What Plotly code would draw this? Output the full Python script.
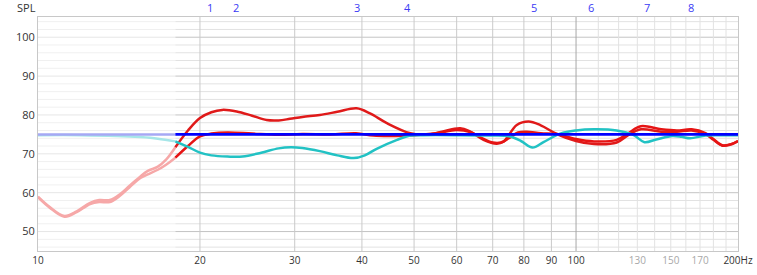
import math
import plotly.graph_objects as go

# ---------------- data ----------------
split_hz = 18.0

red_a_hz = [10, 10.5, 11.2, 11.8, 12.5, 13.0, 13.6, 14.2, 14.8, 15.5, 16.0, 16.7, 17.3,
            18.0, 19.0, 20.0, 21.0, 22.0, 23.4, 25.0, 26.6, 28.0, 29.4, 31.0, 33.4, 36.0,
            39.1, 41.4, 44.5, 49.2, 52.8, 56.0, 60.9, 63.6, 67.3, 71.2, 73.3, 77.6, 81.6,
            85.8, 92.1, 100, 108, 119, 125, 132, 144, 154, 164, 174, 180, 187, 194, 200]
red_a_db = [59.0, 56.4, 54.0, 55.2, 57.4, 58.1, 58.1, 59.6, 61.8, 64.2, 65.6, 66.7, 68.5,
            71.7, 76.0, 79.2, 80.7, 81.3, 80.9, 79.8, 78.7, 78.6, 79.0, 79.5, 80.0, 80.8,
            81.7, 80.4, 77.9, 75.3, 74.9, 75.6, 76.6, 75.7, 73.6, 72.6, 73.1, 77.4, 78.3,
            77.4, 75.1, 73.3, 72.5, 72.9, 74.8, 76.3, 75.7, 75.7, 76.0, 75.1, 73.6, 72.1, 72.4, 73.3]

red_b_hz = [10, 10.5, 11.2, 11.8, 12.5, 13.0, 13.6, 14.2, 14.8, 15.5, 16.0, 16.7, 17.3,
            18.0, 19.0, 20.0, 21.0, 22.5, 25.0, 28.0, 31.0, 35.0, 39.0, 42.0, 46.0, 50.0,
            55.0, 60.0, 63.6, 67.0, 70.0, 72.5, 75.0, 78.0, 81.0, 86.0, 92.0, 100, 108, 119,
            125, 132, 144, 154, 164, 174, 180, 187, 194, 200]
red_b_db = [58.8, 56.2, 53.8, 55.0, 57.1, 57.6, 57.6, 59.2, 61.4, 63.8, 64.7, 65.9, 67.2,
            69.0, 72.0, 74.5, 75.2, 75.5, 75.2, 74.9, 75.1, 75.0, 75.3, 74.7, 74.6, 74.8,
            75.3, 76.1, 75.6, 74.0, 72.9, 72.9, 74.0, 75.5, 75.7, 75.3, 75.1, 73.8, 73.2, 73.6,
            75.3, 77.1, 76.3, 76.0, 76.3, 75.3, 73.8, 72.2, 72.5, 73.3]

cyan_hz = [10, 12, 14, 15.5, 16.7, 18.0, 19.0, 20.0, 21.0, 22.5, 24.0, 26.0, 28.0, 29.5,
           31.0, 33.4, 36.0, 38.6, 40.5, 42.6, 46.5, 49.2, 52.0, 60.0, 70.0, 75.0, 79.0,
           83.0, 87.0, 93.5, 100, 108, 119, 128, 134, 141, 151, 157, 163, 174, 185, 200]
cyan_db = [74.8, 74.8, 74.6, 74.3, 73.9, 73.2, 71.8, 70.3, 69.6, 69.3, 69.3, 70.3, 71.4, 71.7,
           71.5, 70.7, 69.6, 68.9, 69.6, 71.3, 73.6, 74.7, 74.8, 74.8, 74.7, 74.5, 73.3,
           71.6, 73.0, 75.2, 76.0, 76.3, 76.0, 74.8, 73.0, 73.7, 74.6, 74.4, 74.0, 74.7, 74.8, 74.8]

blue_hz = [10, 18.0, 200]
blue_db = [75.0, 75.0, 75.0]

marker_hz = [20.9, 23.3, 39.1, 48.7, 83.5, 106.5, 135.3, 163.3]
marker_labels = ["1", "2", "3", "4", "5", "6", "7", "8"]

x_tick_vals = [10, 20, 30, 40, 50, 60, 70, 80, 90, 100, 130, 150, 170, 200]
x_tick_text = ["10", "20", "30", "40", "50", "60", "70", "80", "90", "100",
               "<span style='color:#a8a8a8'>130</span>",
               "<span style='color:#a8a8a8'>150</span>",
               "<span style='color:#a8a8a8'>170</span>", "200Hz"]
y_tick_vals = [50, 60, 70, 80, 90, 100]

grid_hz_mid = [20, 30, 40, 50, 60, 70, 80, 90]
grid_hz_100 = [100]
grid_hz_high = [110, 120, 130, 140, 150, 160, 170, 180, 190]
grid_db = list(range(46, 105, 2))

X_MIN, X_MAX = 10, 200
Y_MIN, Y_MAX = 45.0, 105.2

# ---------------- helpers ----------------
def split(fs, vs, low):
    if low:
        pts = [(f, v) for f, v in zip(fs, vs) if f <= split_hz]
    else:
        pts = [(f, v) for f, v in zip(fs, vs) if f >= split_hz]
    return [p[0] for p in pts], [p[1] for p in pts]


def vlines(freqs):
    xs, ys = [], []
    for f in freqs:
        xs += [f, f, None]
        ys += [Y_MIN, Y_MAX, None]
    return xs, ys


def hlines(levels, x0, x1):
    xs, ys = [], []
    for d in levels:
        xs += [x0, x1, None]
        ys += [d, d, None]
    return xs, ys


fig = go.Figure()

def add_line(xs, ys, color, width, shape="linear"):
    fig.add_trace(go.Scatter(x=xs, y=ys, mode="lines", hoverinfo="skip",
                             line=dict(color=color, width=width, shape=shape, smoothing=1.0),
                             showlegend=False, connectgaps=False))

# grid
major_db = [d for d in grid_db if d % 10 == 0]
minor_db = [d for d in grid_db if d % 10 != 0]
add_line(*hlines(minor_db, X_MIN, split_hz), "#f0f0f0", 1)
add_line(*hlines(major_db, X_MIN, split_hz), "#e6e6e6", 1)
add_line(*hlines(minor_db, split_hz, X_MAX), "#e2e2e2", 1)
add_line(*hlines(major_db, split_hz, X_MAX), "#c4c4c4", 1)
add_line(*vlines(grid_hz_high), "#e2e2e2", 1)
add_line(*vlines(grid_hz_mid), "#cacaca", 1)
add_line(*vlines(grid_hz_100), "#a8a8a8", 1)

# faded part (< 18 Hz)
add_line(*split(cyan_hz, cyan_db, True), "#a6e6e8", 2.5, "spline")
add_line(*split(blue_hz, blue_db, True), "#a6a8f4", 2.5)
add_line(*split(red_b_hz, red_b_db, True), "#f6a8a8", 2.5, "spline")
add_line(*split(red_a_hz, red_a_db, True), "#f6a8a8", 2.5, "spline")

# active part
add_line(*split(red_a_hz, red_a_db, False), "#e01a1a", 2.5, "spline")
add_line(*split(red_b_hz, red_b_db, False), "#e61414", 2.5, "spline")
add_line(*split(cyan_hz, cyan_db, False), "#22c2c4", 2.5, "spline")
add_line(*split(blue_hz, blue_db, False), "#0000ff", 2.8)

# marker numbers along the top (annotations on a log axis use log10 positions)
for f, lab in zip(marker_hz, marker_labels):
    fig.add_annotation(text=lab, xref="x", yref="paper", x=math.log10(f), y=1.0,
                       yanchor="bottom", xanchor="center", yshift=0, showarrow=False,
                       font=dict(color="#3a3af5", size=11, family="Open Sans"))

fig.add_annotation(text="SPL", xref="paper", yref="paper", x=-0.0164, y=1.042,
                   showarrow=False, xanchor="center", yanchor="middle",
                   font=dict(size=11, color="#333333", family="Open Sans"))

fig.update_layout(
    width=757, height=275,
    margin=dict(l=38, r=19, t=17, b=24, pad=0, autoexpand=False),
    paper_bgcolor="white", plot_bgcolor="white",
    font=dict(family="Open Sans", size=10, color="#333333"),
    showlegend=False,
)
fig.update_xaxes(type="log", range=[math.log10(X_MIN), math.log10(X_MAX)], automargin=False,
                 showgrid=False, zeroline=False, tickvals=x_tick_vals, ticktext=x_tick_text,
                 ticks="", showline=True, mirror=True, linecolor="#c8c8c8", linewidth=1,
                 tickfont=dict(size=10, color="#333333"))
fig.update_yaxes(range=[Y_MIN, Y_MAX], showgrid=False, zeroline=False, automargin=False,
                 tickvals=y_tick_vals, ticks="", showline=True, mirror=True,
                 linecolor="#c8c8c8", linewidth=1,
                 tickfont=dict(size=11, color="#333333"))

fig.write_html("out.html")
